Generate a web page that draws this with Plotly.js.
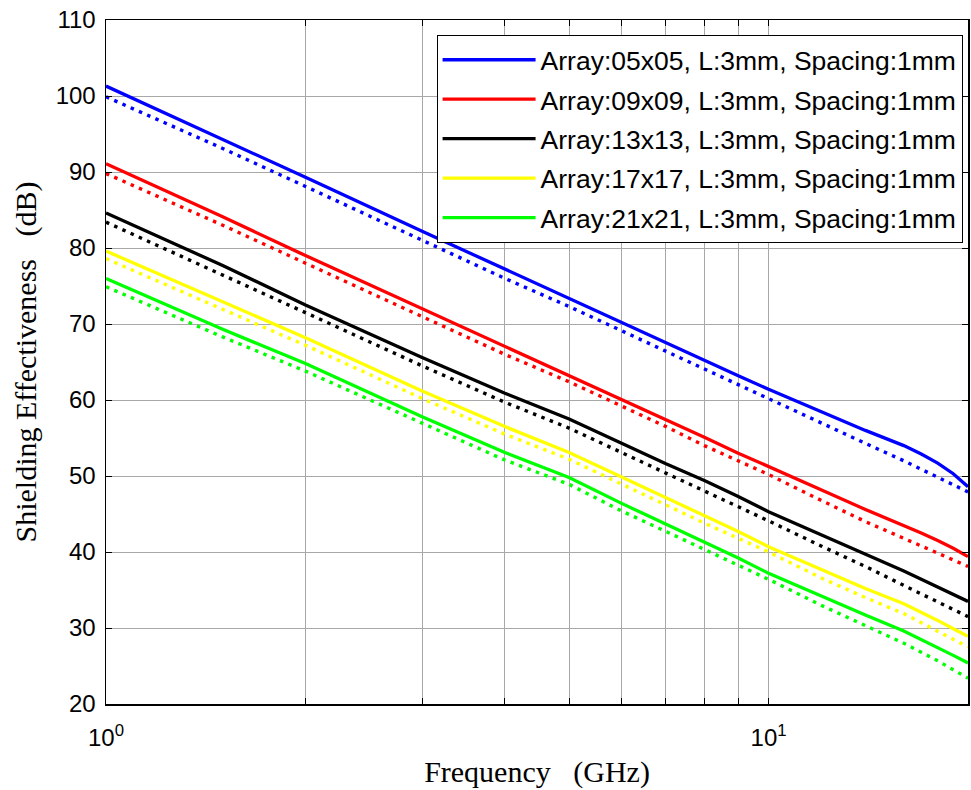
<!DOCTYPE html>
<html>
<head>
<meta charset="utf-8">
<script src="https://cdn.plot.ly/plotly-3.0.1.min.js"></script>
<style>html,body{margin:0;padding:0;background:#fff;}#chart{width:971px;height:790px;}</style>
</head>
<body>
<div id="chart"></div>
<script>
// Frequency (GHz)
const freq = [1, 1.5, 2, 3, 4, 5, 6, 7, 8, 9, 10, 12, 14, 16, 17, 18, 19, 20];

// Solid curves
const se05 = [101.3, 94.3, 89.3, 82.2, 77.2, 73.4, 70.2, 67.5, 65.2, 63.2, 61.4, 58.5, 56.0, 54.0, 52.9, 51.7, 50.3, 48.6];
const se09 = [91.1, 84.1, 79.0, 72.0, 67.1, 63.3, 60.1, 57.4, 55.1, 53.0, 51.2, 48.2, 45.6, 43.5, 42.5, 41.5, 40.5, 39.4];
const se13 = [84.6, 77.7, 72.5, 65.6, 60.9, 57.5, 54.3, 51.6, 49.4, 47.3, 45.3, 42.3, 39.8, 37.5, 36.4, 35.4, 34.4, 33.5];
const se17 = [79.6, 72.9, 68.2, 61.2, 56.5, 53.1, 49.9, 47.2, 44.8, 42.7, 40.7, 37.7, 35.2, 33.2, 32.1, 31.0, 29.9, 28.9];
const se21 = [76.0, 69.3, 64.8, 57.8, 53.1, 49.8, 46.4, 43.7, 41.3, 39.2, 37.2, 34.2, 31.7, 29.6, 28.5, 27.5, 26.4, 25.4];

// Dotted curves
const se05d = [99.9, 93.1, 88.1, 81.0, 76.0, 72.3, 69.1, 66.4, 64.0, 62.0, 60.2, 57.0, 54.3, 52.0, 50.9, 49.9, 48.9, 47.9];
const se09d = [89.8, 83.0, 78.0, 71.0, 66.0, 62.4, 59.2, 56.5, 54.0, 52.0, 50.2, 46.8, 44.0, 41.8, 40.8, 39.9, 39.0, 38.1];
const se13d = [83.4, 76.5, 71.5, 64.5, 59.7, 56.3, 53.1, 50.4, 48.1, 46.0, 44.1, 40.8, 38.1, 35.6, 34.5, 33.5, 32.5, 31.5];
const se17d = [78.6, 71.9, 67.2, 60.2, 55.5, 52.2, 48.9, 46.2, 43.8, 41.8, 40.0, 36.6, 34.0, 31.9, 30.7, 29.6, 28.5, 27.5];
const se21d = [74.9, 68.3, 63.8, 56.9, 52.1, 48.9, 45.4, 42.7, 40.3, 38.3, 36.4, 33.0, 30.3, 28.0, 26.8, 25.7, 24.5, 23.4];

const names = [
  'Array:05x05, L:3mm, Spacing:1mm',
  'Array:09x09, L:3mm, Spacing:1mm',
  'Array:13x13, L:3mm, Spacing:1mm',
  'Array:17x17, L:3mm, Spacing:1mm',
  'Array:21x21, L:3mm, Spacing:1mm'
];
const colors = ['#0000ff', '#ff0000', '#000000', '#ffff00', '#00ff00'];
const solid = [se05, se09, se13, se17, se21];
const dotted = [se05d, se09d, se13d, se17d, se21d];

const xTickVals = [1, 2, 3, 4, 5, 6, 7, 8, 9, 10, 20];
const xTickText = ['10<sup>0</sup>', '', '', '', '', '', '', '', '', '10<sup>1</sup>', ''];
const yTickVals = [20, 30, 40, 50, 60, 70, 80, 90, 100, 110];

const traces = [];
for (let i = 0; i < 5; i++) {
  traces.push({
    x: freq, y: solid[i], type: 'scatter', mode: 'lines', name: names[i],
    legendgroup: 'g' + i,
    line: {color: colors[i], width: 3.3}
  });
}
for (let i = 0; i < 5; i++) {
  traces.push({
    x: freq, y: dotted[i], type: 'scatter', mode: 'lines', showlegend: false,
    legendgroup: 'g' + i,
    line: {color: colors[i], width: 3.4, dash: '3.5px,5.5px'}
  });
}

const layout = {
  width: 971, height: 790,
  margin: {l: 106, r: 3, t: 20, b: 86},
  paper_bgcolor: '#ffffff', plot_bgcolor: '#ffffff',
  showlegend: true,
  xaxis: {
    type: 'log', range: [0, Math.log10(20)],
    tickvals: xTickVals, ticktext: xTickText,
    ticks: 'inside', ticklen: 6, tickcolor: '#000',
    showline: true, linecolor: '#000', linewidth: 1.5, mirror: 'ticks',
    showgrid: true, gridcolor: '#a8a8a8', gridwidth: 1, zeroline: false,
    tickfont: {family: 'Liberation Sans, Arial, sans-serif', size: 24, color: '#000'},
    ticklabelstandoff: 12,
    title: {text: 'Frequency&nbsp;&nbsp;&nbsp;(GHz)', font: {family: 'Liberation Serif, Times New Roman, serif', size: 30, color: '#000'}, standoff: 10}
  },
  yaxis: {
    range: [20, 110], tickvals: yTickVals,
    ticks: 'inside', ticklen: 6, tickcolor: '#000',
    showline: true, linecolor: '#000', linewidth: 1.5, mirror: 'ticks',
    showgrid: true, gridcolor: '#a8a8a8', gridwidth: 1, zeroline: false,
    tickfont: {family: 'Liberation Sans, Arial, sans-serif', size: 24, color: '#000'},
    ticklabelstandoff: 4,
    title: {text: 'Shielding Effectiveness&nbsp;&nbsp;&nbsp;(dB)', font: {family: 'Liberation Serif, Times New Roman, serif', size: 30, color: '#000'}, standoff: 10}
  },
  legend: {
    x: 0.3835, y: 0.978, xanchor: 'left', yanchor: 'top',
    bgcolor: '#ffffff', bordercolor: '#000', borderwidth: 1,
    font: {family: 'Liberation Sans, Arial, sans-serif', size: 26.5, color: '#000'},
    traceorder: 'grouped', tracegroupgap: 2, itemwidth: 93
  }
};

Plotly.newPlot('chart', traces, layout, {displayModeBar: false, staticPlot: true});
</script>
</body>
</html>
